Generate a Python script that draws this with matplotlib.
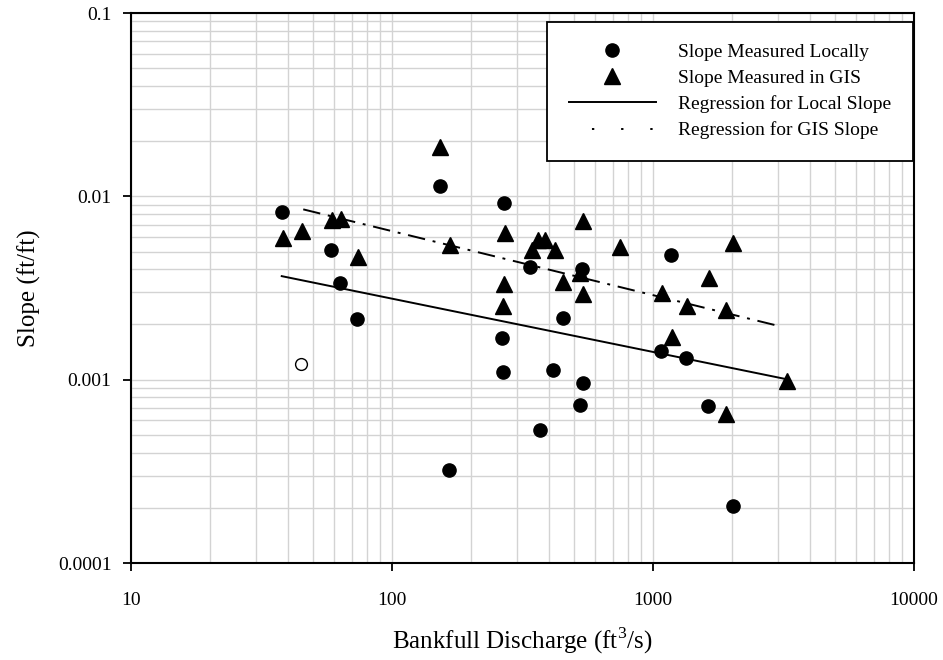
import matplotlib
matplotlib.use("Agg")
import matplotlib.pyplot as plt
from matplotlib.lines import Line2D
from matplotlib.ticker import LogLocator, FixedLocator, FixedFormatter, NullFormatter

plt.rcParams['font.family'] = ['Liberation Serif', 'DejaVu Serif']
plt.rcParams['mathtext.fontset'] = 'custom'
plt.rcParams['mathtext.rm'] = 'Liberation Serif'

# Slope measured locally
local_q = [37.9, 58.3, 63.2, 73.2, 152.7, 165, 269, 263.3, 267, 337.9, 415, 369,
           450.8, 533, 538, 525, 1169, 1070, 1338, 1621, 2021]
local_s = [0.00824, 0.00509, 0.00338, 0.00213, 0.01138, 0.00032, 0.00916, 0.001695,
           0.001096, 0.0041, 0.001128, 0.00053, 0.00218, 0.0040, 0.000955, 0.000727,
           0.0048, 0.00143, 0.001306, 0.000718, 0.000204]

# Outlier (open circle)
outlier_q = [44.7]
outlier_s = [0.00121]

# Slope measured in GIS
gis_q = [38.3, 45.1, 58.7, 63.8, 73.9, 152.7, 166.8, 271.6, 268.7, 265.6, 342.6, 362,
         385, 421, 453, 540.8, 525, 540.8, 747, 1080, 1346, 1904, 1639, 1180, 3270,
         1904, 2025]
gis_s = [0.0059, 0.00649, 0.00743, 0.00752, 0.00464, 0.0186, 0.00542, 0.00628, 0.00332,
         0.00253, 0.00509, 0.00578, 0.00578, 0.00509, 0.00342, 0.00733, 0.0038, 0.00292,
         0.00527, 0.00296, 0.00252, 0.0024, 0.00357, 0.0017, 0.000986, 0.000647, 0.00556]

# Regression line end points
local_fit_q = [37.8, 3203]
local_fit_s = [0.00367, 0.00101]
gis_fit_q = [45.7, 3112]
gis_fit_s = [0.00849, 0.001945]

x_ticks = [10, 100, 1000, 10000]
x_tick_labels = ['10', '100', '1000', '10000']
y_ticks = [0.0001, 0.001, 0.01, 0.1]
y_tick_labels = ['0.0001', '0.001', '0.01', '0.1']

fig = plt.figure(figsize=(9.43, 6.60), dpi=100)
ax = fig.add_axes([131/943, 1-563/660, (914-131)/943, (563-13)/660])

ax.set_xscale('log')
ax.set_yscale('log')
ax.set_xlim(10, 10000)
ax.set_ylim(0.0001, 0.1)

ax.xaxis.set_minor_locator(LogLocator(base=10, subs=range(2, 10)))
ax.yaxis.set_minor_locator(LogLocator(base=10, subs=range(2, 10)))
ax.xaxis.set_minor_formatter(NullFormatter())
ax.yaxis.set_minor_formatter(NullFormatter())
ax.xaxis.set_major_locator(FixedLocator(x_ticks))
ax.xaxis.set_major_formatter(FixedFormatter(x_tick_labels))
ax.yaxis.set_major_locator(FixedLocator(y_ticks))
ax.yaxis.set_major_formatter(FixedFormatter(y_tick_labels))

ax.grid(True, which='both', color='#d3d3d3', linewidth=1.0)
ax.set_axisbelow(True)
ax.tick_params(which='major', direction='out', length=6, width=1.3, labelsize=14, colors='black')
ax.tick_params(axis='x', which='major', pad=15)
ax.tick_params(axis='y', which='major', pad=8)
ax.tick_params(which='minor', length=0)
for s in ax.spines.values():
    s.set_linewidth(1.5)
    s.set_color('black')

ax.plot(local_fit_q, local_fit_s, color='black', linewidth=1.4, zorder=2)
ax.plot(gis_fit_q, gis_fit_s, color='black', linewidth=1.4, linestyle=(0, (9, 4, 1.5, 4)), zorder=2)

ax.plot(local_q, local_s, linestyle='none', marker='o', markersize=9.5, color='black', zorder=3)
ax.plot(gis_q, gis_s, linestyle='none', marker='^', markersize=11, color='black', zorder=3)
ax.plot(outlier_q, outlier_s, linestyle='none', marker='o', markersize=8.5, markerfacecolor='white',
        markeredgecolor='black', markeredgewidth=1.0, zorder=3)

handles = [
    Line2D([], [], linestyle='none', marker='o', markersize=9.5, color='black'),
    Line2D([], [], linestyle='none', marker='^', markersize=11, color='black'),
    Line2D([], [], color='black', linewidth=1.4),
    Line2D([], [], color='black', linewidth=1.4, linestyle=(3.2, (1.2, 13.8))),
]
labels = ['Slope Measured Locally', 'Slope Measured in GIS',
          'Regression for Local Slope', 'Regression for GIS Slope']
leg = ax.legend(handles, labels, loc='upper right', bbox_to_anchor=(0.9987, 0.9836),
                fontsize=14, frameon=True, fancybox=False, framealpha=1,
                edgecolor='black', handlelength=4.5, handletextpad=1.15,
                labelspacing=0.43, borderpad=1.1, borderaxespad=0)
leg.get_frame().set_linewidth(1.3)

ax.set_xlabel('Bankfull Discharge (ft$^3$/s)', fontsize=18, labelpad=12)
ax.set_ylabel('Slope (ft/ft)', fontsize=18, labelpad=12)

fig.savefig('out.png', dpi=100)
